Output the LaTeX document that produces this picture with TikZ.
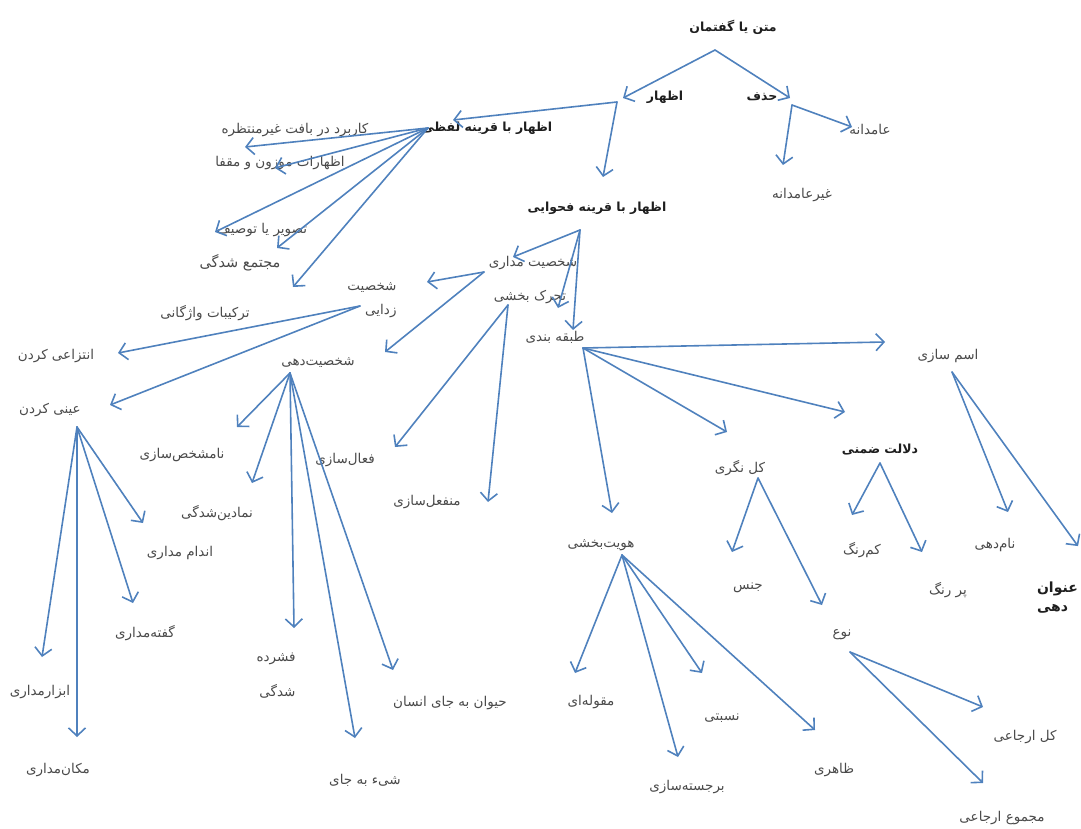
\documentclass[tikz,border=0pt]{standalone}
\usepackage{fontspec}
\usepackage{tikz}
\usetikzlibrary{calc,arrows.meta}
\newfontfamily\arabicfont[Script=Arabic]{DejaVu Sans}
\TeXXeTstate=1
\definecolor{ink}     {HTML}{1E1E1E}
\definecolor{softink} {HTML}{4A4A4A}
\definecolor{linkblue}{HTML}{4F81BD}
\newcommand{\fatext}[1]{{\arabicfont\beginR #1\endR}}
\tikzset{
  % --- nodes
  lbl/.style  = {font=\fontsize{13.5}{16}\selectfont, text=softink, inner sep=1pt, align=center},
  hd/.style   = {lbl, font=\bfseries\fontsize{12.5}{15}\selectfont, text=ink},
  % --- edges
  link/.style = {-{Straight Barb[length=8pt,width=17pt]}, line width=1.6pt,
                 draw=linkblue, line cap=round},
}

\begin{document}
\begin{tikzpicture}[x=1pt, y=-1pt]
  \clip (0,0) rectangle (1081,829);

  % ------------------------------------------------------------------ top
  \node[hd]  (root)    at (733,27)  {\fatext{متن یا گفتمان}};
  \node[hd]  (izhar)   at (665,97)  {\fatext{اظهار}};
  \node[hd]  (hazf)    at (762,97)  {\fatext{حذف}};
  \node[lbl] (amd)     at (870,130) {\fatext{عامدانه}};
  \node[lbl] (namd)    at (802,195) {\fatext{غیرعامدانه}};

  % ------------------------------------------------------------------ lafzi
  \node[hd]  (lafzi)   at (487,128) {\fatext{اظهار با قرینه لفظی}};
  \node[lbl] (karbord) at (295,130) {\fatext{کاربرد در بافت غیرمنتظره}};
  \node[lbl] (mowzun)  at (280,163) {\fatext{اظهارات موزون و مقفا}};
  \node[lbl] (tasvir)  at (262,230) {\fatext{تصویر یا توصیف}};
  \node[lbl, font=\fontsize{14.5}{17}\selectfont] (mojtama) at (240,263) {\fatext{مجتمع  شدگی}};
  \node[lbl] (tarkib)  at (205,313) {\fatext{ترکیبات واژگانی}};

  % ------------------------------------------------------------------ fahva
  \node[hd]  (fahva)   at (597,208) {\fatext{اظهار با قرینه فحوایی}};
  \node[lbl] (shmad)   at (533,263) {\fatext{شخصیت مداری}};
  \node[lbl] (tahar)   at (530,297) {\fatext{تحرک بخشی}};
  \node[lbl] (tabaq)   at (555,337) {\fatext{طبقه بندی}};

  % ------------------------------------------------------------------ left branch
  \node[lbl, align=right] (shzod) at (372,300) {\fatext{شخصیت‌}\\[8pt]\fatext{زدایی}};
  \node[lbl] (shdeh)   at (318,363) {\fatext{شخصیت‌دهی}};
  \node[lbl] (entez)   at (56,356)  {\fatext{انتزاعی کردن}};
  \node[lbl] (eyni)    at (50,410)  {\fatext{عینی کردن}};
  \node[lbl] (namsh)   at (182,455) {\fatext{نامشخص‌سازی}};
  \node[lbl] (namad)   at (217,513) {\fatext{نمادین‌شدگی}};
  \node[lbl] (andam)   at (180,553) {\fatext{اندام مداری}};
  \node[lbl] (gofte)   at (145,633) {\fatext{گفته‌مداری}};
  \node[lbl] (abzar)   at (40,692)  {\fatext{ابزارمداری}};
  \node[lbl] (makan)   at (58,770)  {\fatext{مکان‌مداری}};
  \node[lbl, align=right] (feshr) at (276,676) {\fatext{فشرده‌}\\[19pt]\fatext{شدگی}};
  \node[lbl] (shey)    at (365,780) {\fatext{شیء به جای}};
  \node[lbl] (heyvan)  at (450,703) {\fatext{حیوان به جای انسان}};
  \node[lbl] (faal)    at (345,460) {\fatext{فعال‌سازی}};
  \node[lbl] (monf)    at (427,502) {\fatext{منفعل‌سازی}};

  % ------------------------------------------------------------------ tabaqe bandi
  \node[lbl] (hoviy)   at (601,545) {\fatext{هویت‌بخشی}};
  \node[lbl] (maqul)   at (591,702) {\fatext{مقوله‌ای}};
  \node[lbl] (nesb)    at (722,718) {\fatext{نسبتی}};
  \node[lbl] (barj)    at (687,787) {\fatext{برجسته‌سازی}};
  \node[lbl] (zaher)   at (834,770) {\fatext{ظاهری}};
  \node[lbl] (kolneg)  at (740,468) {\fatext{کل نگری}};
  \node[lbl] (jens)    at (748,588) {\fatext{جنس}};
  \node[lbl] (now)     at (842,635) {\fatext{نوع}};
  \node[lbl] (kolerj)  at (1025,737) {\fatext{کل ارجاعی}};
  \node[lbl] (majmu)   at (1002,818) {\fatext{مجموع ارجاعی}};
  \node[lbl] (esm)     at (948,356) {\fatext{اسم سازی}};
  \node[hd]  (dalal)   at (880,450) {\fatext{دلالت ضمنی}};
  \node[lbl] (kamr)    at (862,550) {\fatext{کم‌رنگ}};
  \node[lbl] (porr)    at (948,590) {\fatext{پر رنگ}};
  \node[lbl] (namdeh)  at (995,545) {\fatext{نام‌دهی}};
  \node[hd, font=\bfseries\fontsize{14}{16}\selectfont, anchor=east, align=left]
    (onvan) at (1079,598) {\fatext{عنوان}\\[3pt]\fatext{دهی}};

  % ------------------------------------------------------------------ hubs
  \coordinate (root-h)   at ($(root)+(-18,23)$);
  \coordinate (izhar-h)  at ($(izhar)+(-48,5)$);
  \coordinate (hazf-h)   at ($(hazf)+(30,8)$);
  \coordinate (lafzi-h)  at ($(lafzi)+(-59,0)$);
  \coordinate (fahva-h)  at ($(fahva)+(-17,22)$);
  \coordinate (shmad-h)  at ($(shmad)+(-49,9)$);
  \coordinate (tahar-h)  at ($(tahar)+(-22,8)$);
  \coordinate (tabaq-h)  at ($(tabaq)+(28,11)$);
  \coordinate (shzod-h)  at ($(shzod)+(-12,6)$);
  \coordinate (shdeh-h)  at ($(shdeh)+(-28,10)$);
  \coordinate (eyni-h)   at ($(eyni)+(27,17)$);
  \coordinate (hoviy-h)  at ($(hoviy)+(21,10)$);
  \coordinate (kolneg-h) at ($(kolneg)+(18,10)$);
  \coordinate (now-h)    at ($(now)+(8,17)$);
  \coordinate (esm-h)    at ($(esm)+(4,16)$);
  \coordinate (dalal-h)  at ($(dalal)+(0,13)$);

  % ------------------------------------------------------------------ links
  \draw[link] (root-h) -- ($(izhar)+(-42,1)$);
  \draw[link] (root-h) -- ($(hazf)+(28,1)$);
  \draw[link] (hazf-h) -- ($(namd)+(-19,-30)$);
  \draw[link] (hazf-h) -- ($(amd)+(-18,-3)$);
  \draw[link] (izhar-h) -- ($(fahva)+(6,-31)$);
  \draw[link] (izhar-h) -- ($(lafzi)+(-34,-8)$);

  \draw[link] (lafzi-h) -- ($(karbord)+(-50,17)$);
  \draw[link] (lafzi-h) -- ($(mowzun)+(-5,5)$);
  \draw[link] (lafzi-h) -- ($(tasvir)+(-47,2)$);
  \draw[link] (lafzi-h) -- ($(mojtama)+(37,-15)$);
  \draw[link] (lafzi-h) -- ($(tarkib)+(88,-26)$);

  \draw[link] (fahva-h) -- ($(shmad)+(-20,-6)$);
  \draw[link] (fahva-h) -- ($(tahar)+(28,11)$);
  \draw[link] (fahva-h) -- ($(tabaq)+(18,-7)$);

  \draw[link] (shmad-h) -- ($(shzod)+(55,-18)$);
  \draw[link] (shmad-h) -- ($(shdeh)+(67,-11)$);
  \draw[link] (tahar-h) -- ($(faal)+(50,-13)$);
  \draw[link] (tahar-h) -- ($(monf)+(61,0)$);

  \draw[link] (tabaq-h) -- ($(esm)+(-63,-14)$);
  \draw[link] (tabaq-h) -- ($(dalal)+(-35,-38)$);
  \draw[link] (tabaq-h) -- ($(kolneg)+(-13,-36)$);
  \draw[link] (tabaq-h) -- ($(hoviy)+(11,-32)$);

  \draw[link] (shzod-h) -- ($(entez)+(62,-3)$);
  \draw[link] (shzod-h) -- ($(eyni)+(60,-5)$);

  \draw[link] (shdeh-h) -- ($(namsh)+(55,-28)$);
  \draw[link] (shdeh-h) -- ($(namad)+(35,-30)$);
  \draw[link] (shdeh-h) -- ($(feshr)+(18,-48)$);
  \draw[link] (shdeh-h) -- ($(shey)+(-10,-42)$);
  \draw[link] (shdeh-h) -- ($(heyvan)+(-57,-33)$);

  \draw[link] (eyni-h) -- ($(andam)+(-37,-30)$);
  \draw[link] (eyni-h) -- ($(gofte)+(-12,-30)$);
  \draw[link] (eyni-h) -- ($(abzar)+(2,-35)$);
  \draw[link] (eyni-h) -- ($(makan)+(19,-33)$);

  \draw[link] (hoviy-h) -- ($(maqul)+(-16,-29)$);
  \draw[link] (hoviy-h) -- ($(barj)+(-9,-30)$);
  \draw[link] (hoviy-h) -- ($(nesb)+(-20,-45)$);
  \draw[link] (hoviy-h) -- ($(zaher)+(-19,-40)$);

  \draw[link] (kolneg-h) -- ($(jens)+(-16,-36)$);
  \draw[link] (kolneg-h) -- ($(now)+(-20,-30)$);
  \draw[link] (now-h) -- ($(kolerj)+(-42,-30)$);
  \draw[link] (now-h) -- ($(majmu)+(-19,-35)$);

  \draw[link] (esm-h) -- ($(namdeh)+(13,-33)$);
  \draw[link] (esm-h) -- ($(onvan.north east)+(-1,-35)$);
  \draw[link] (dalal-h) -- ($(kamr)+(-10,-35)$);
  \draw[link] (dalal-h) -- ($(porr)+(-26,-38)$);
\end{tikzpicture}
\end{document}
